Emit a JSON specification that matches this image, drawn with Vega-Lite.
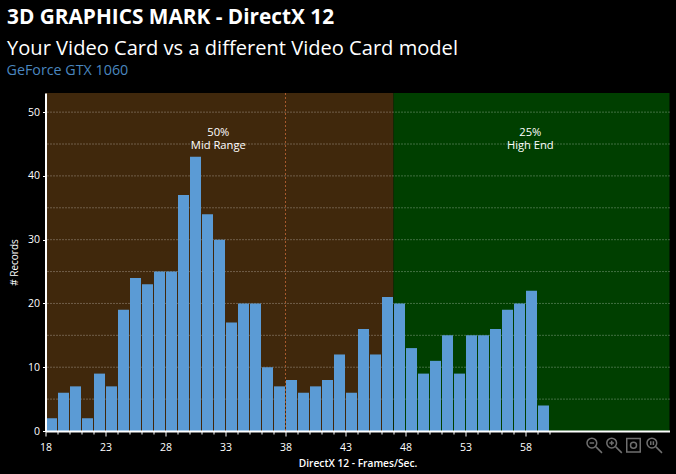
{
"$schema":"https://vega.github.io/schema/vega-lite/v6.json",
"width":624,"height":338,
"autosize":"none",
"padding":{"left":45.5,"top":93,"right":6.5,"bottom":43},
"background":"#000000",
"view":{"stroke":null},
"title":{"text":"3D GRAPHICS MARK - DirectX 12","subtitle":"Your Video Card vs a different Video Card model","anchor":"start","frame":"group","dx":-38.5,"offset":4,"font":"Open Sans","fontSize":20.8,"fontWeight":"bold","color":"#ffffff","subtitleFont":"Open Sans","subtitleFontSize":20.1,"subtitleColor":"#ffffff","subtitleFontWeight":"normal","subtitlePadding":10},
"config":{"font":"Open Sans"},
"encoding":{
  "x":{"type":"quantitative","scale":{"domain":[18,70],"nice":false,"zero":false},
   "axis":{"title":"DirectX 12 - Frames/Sec.","titleColor":"#ffffff","titleFontSize":10.2,"titleFontWeight":600,"titleFont":"Open Sans","titlePadding":6,"zindex":1,
    "values":[18,19,20,21,22,23,24,25,26,27,28,29,30,31,32,33,34,35,36,37,38,39,40,41,42,43,44,45,46,47,48,49,50,51,52,53,54,55,56,57,58,59,60],
    "labelExpr":"(datum.value-18)%5===0?datum.label:''","labelOverlap":false,"labelFlush":false,"labelColor":"#ffffff","labelFontSize":10.5,"labelPadding":6,
    "domainColor":"#ffffff","domainWidth":2,"tickColor":"#ffffff","tickWidth":1,"tickSize":{"condition":{"test":"(datum.value-18)%5===0","value":5},"value":3},"grid":false}},
  "y":{"type":"quantitative","scale":{"domain":[0,53],"nice":false},
   "axis":{"title":"# Records","titleColor":"#ffffff","titleFontSize":10,"titleFontWeight":500,"titleFont":"Open Sans","titlePadding":8,"zindex":1,
    "values":[0,10,20,30,40,50],"labelColor":"#ffffff","labelFontSize":10.5,"labelPadding":3,"domainColor":"#ffffff","domainWidth":2,"tickColor":"#ffffff","tickWidth":1,"tickSize":3,"grid":false}}
},
"layer":[
{"data":{"values":[{"start":18,"end":47,"zone":"Mid Range"},{"start":47,"end":70,"zone":"High End"}]},
 "mark":{"type":"rect"},
 "encoding":{
  "x":{"field":"start"},
  "x2":{"field":"end"},
  "y":{"datum":0},
  "y2":{"datum":53},
  "color":{"field":"zone","type":"nominal","scale":{"domain":["Mid Range","High End"],"range":["#40280c","#003f00"]},"legend":null}
 }},
{"data":{"values":[{"v":5},{"v":10},{"v":15},{"v":20},{"v":25},{"v":30},{"v":35},{"v":40},{"v":45},{"v":50}]},
 "mark":{"type":"rule","color":"#ffffff","opacity":0.5,"strokeWidth":1,"strokeDash":[1,2]},
 "encoding":{"y":{"field":"v"},"x":null}},
{"data":{"values":[{"v":38}]},
 "mark":{"type":"rule","color":"#a8592c","strokeWidth":1,"strokeDash":[2,2]},
 "encoding":{"x":{"field":"v"},"y":null}},
{"data":{"values":[
{"from":18,"to":19,"count":2},{"from":19,"to":20,"count":6},{"from":20,"to":21,"count":7},{"from":21,"to":22,"count":2},{"from":22,"to":23,"count":9},{"from":23,"to":24,"count":7},{"from":24,"to":25,"count":19},{"from":25,"to":26,"count":24},{"from":26,"to":27,"count":23},{"from":27,"to":28,"count":25},{"from":28,"to":29,"count":25},{"from":29,"to":30,"count":37},{"from":30,"to":31,"count":43},{"from":31,"to":32,"count":34},{"from":32,"to":33,"count":30},{"from":33,"to":34,"count":17},{"from":34,"to":35,"count":20},{"from":35,"to":36,"count":20},{"from":36,"to":37,"count":10},{"from":37,"to":38,"count":7},{"from":38,"to":39,"count":8},{"from":39,"to":40,"count":6},{"from":40,"to":41,"count":7},{"from":41,"to":42,"count":8},{"from":42,"to":43,"count":12},{"from":43,"to":44,"count":6},{"from":44,"to":45,"count":16},{"from":45,"to":46,"count":12},{"from":46,"to":47,"count":21},{"from":47,"to":48,"count":20},{"from":48,"to":49,"count":13},{"from":49,"to":50,"count":9},{"from":50,"to":51,"count":11},{"from":51,"to":52,"count":15},{"from":52,"to":53,"count":9},{"from":53,"to":54,"count":15},{"from":54,"to":55,"count":15},{"from":55,"to":56,"count":16},{"from":56,"to":57,"count":19},{"from":57,"to":58,"count":20},{"from":58,"to":59,"count":22},{"from":59,"to":60,"count":4}]},
 "mark":{"type":"rect","fill":"#5b9bd5","xOffset":0.5,"x2Offset":-0.5},
 "encoding":{"x":{"field":"from"},"x2":{"field":"to"},"y":{"field":"count"},"y2":{"datum":0}}},
{"data":{"values":[{"x":32.4,"y":46.65,"t":["50%","Mid Range"]},{"x":58.4,"y":46.65,"t":["25%","High End"]}]},
 "mark":{"type":"text","color":"#ffffff","fontSize":11.2,"lineHeight":13,"align":"center","baseline":"middle"},
 "encoding":{"x":{"field":"x"},"y":{"field":"y"},"text":{"field":"t"}}},
{"data":{"values":[{"x":14.75,"y":56.4,"t":"GeForce GTX 1060"}]},
 "mark":{"type":"text","color":"#4a86bf","fontSize":14.3,"align":"left","baseline":"middle"},
 "encoding":{"x":{"field":"x"},"y":{"field":"y"},"text":{"field":"t"}}},
{"data":{"values":[{"x":63.75,"y":-2.25,"icon":"zoom out"},{"x":65.4,"y":-2.25,"icon":"zoom in"},{"x":67,"y":-2.25,"icon":"fit"},{"x":68.75,"y":-2.25,"icon":"actual"}]},
 "mark":{"type":"point","filled":false,"stroke":"#6f6f6f","strokeWidth":1.5,"size":225,"opacity":1},
 "encoding":{"x":{"field":"x"},"y":{"field":"y"},
  "shape":{"field":"icon","type":"nominal","legend":null,"scale":{"domain":["zoom out","zoom in","fit","actual"],"range":[
   "M-1 -0.3A0.65 0.65 0 1 0 0.3 -0.3A0.65 0.65 0 1 0 -1 -0.3ZM0.2 0.2L1 1M-0.65 -0.3H-0.05",
   "M-1 -0.3A0.65 0.65 0 1 0 0.3 -0.3A0.65 0.65 0 1 0 -1 -0.3ZM0.2 0.2L1 1M-0.65 -0.3H-0.05M-0.35 -0.6V0",
   "M-0.9 -0.9H0.9V0.9H-0.9ZM-0.4 0A0.4 0.4 0 1 0 0.4 0A0.4 0.4 0 1 0 -0.4 0Z",
   "M-1 -0.3A0.65 0.65 0 1 0 0.3 -0.3A0.65 0.65 0 1 0 -1 -0.3ZM0.2 0.2L1 1M-0.5 -0.55V-0.05M-0.15 -0.55V-0.05"]}}}}
]}
